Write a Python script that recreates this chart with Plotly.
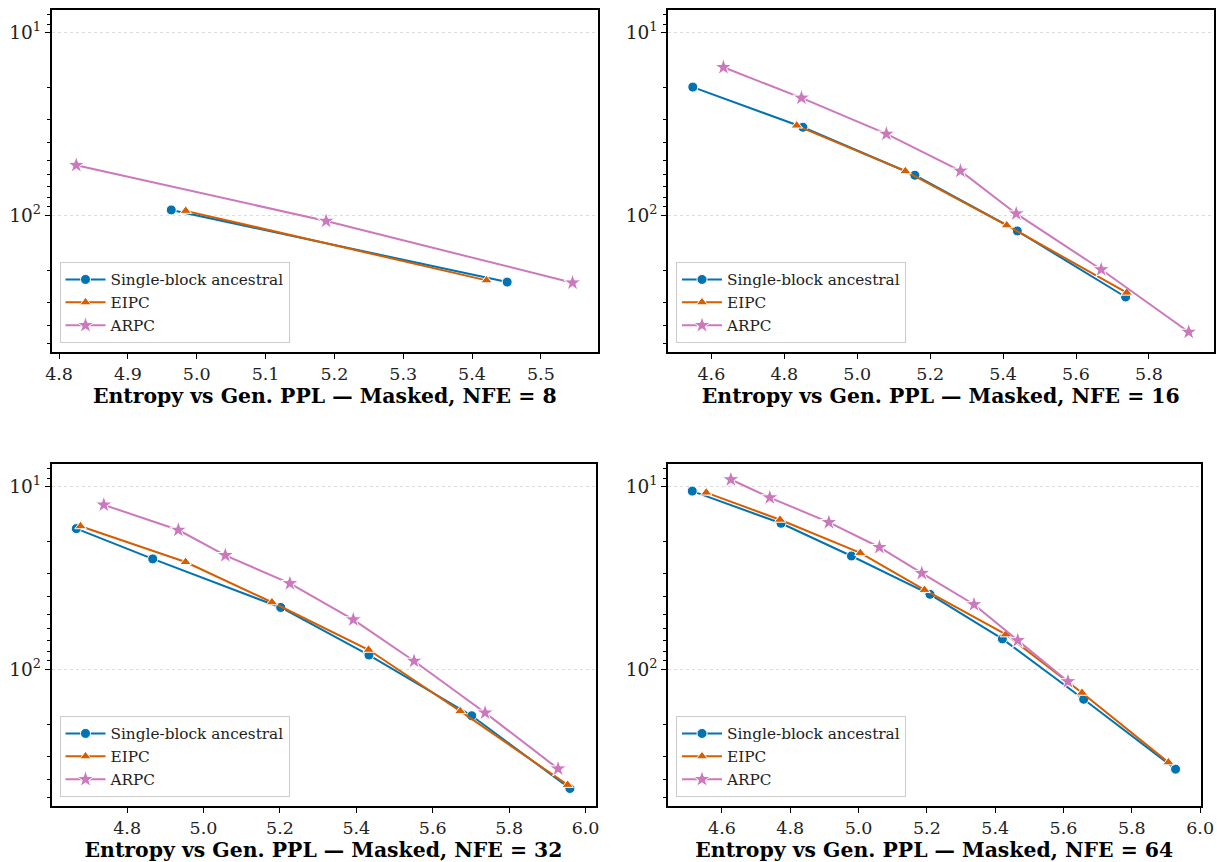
import plotly.graph_objects as go

# ---------------- data ----------------
series_names = ["Single-block ancestral", "EIPC", "ARPC"]
nfe_labels = [8, 16, 32, 64]

# NFE = 8
sb8_x = [4.963, 5.451]
sb8_y = [93.5, 232]
ei8_x = [4.984, 5.421]
ei8_y = [94.6, 227]
ar8_x = [4.825, 5.188, 5.546]
ar8_y = [53.2, 107.5, 234]

# NFE = 16
sb16_x = [4.549, 4.851, 5.158, 5.439, 5.736]
sb16_y = [19.9, 33.0, 60.4, 121.9, 280]
ei16_x = [4.834, 5.132, 5.410, 5.739]
ei16_y = [32.3, 57.4, 113.5, 265]
ar16_x = [4.633, 4.847, 5.080, 5.283, 5.436, 5.669, 5.909]
ar16_y = [15.5, 22.8, 35.9, 57.2, 98, 198, 435]

# NFE = 32
sb32_x = [4.667, 4.867, 5.202, 5.433, 5.702, 5.959]
sb32_y = [17.0, 24.9, 45.9, 83.6, 179.6, 449]
ei32_x = [4.678, 4.953, 5.179, 5.432, 5.672, 5.953]
ei32_y = [16.5, 25.9, 43.0, 78.2, 169.4, 429]
ar32_x = [4.739, 4.934, 5.057, 5.226, 5.392, 5.551, 5.737, 5.928]
ar32_y = [12.6, 17.3, 23.8, 33.9, 53.5, 90.1, 173, 350]

# NFE = 64
sb64_x = [4.513, 4.773, 4.979, 5.209, 5.421, 5.659, 5.928]
sb64_y = [10.6, 15.9, 24.0, 38.9, 68.2, 145.9, 352]
ei64_x = [4.554, 4.770, 5.005, 5.193, 5.431, 5.654, 5.907]
ei64_y = [10.8, 15.2, 23.1, 36.8, 64.4, 134.4, 323]
ar64_x = [4.626, 4.740, 4.913, 5.061, 5.185, 5.338, 5.466, 5.613]
ar64_y = [9.16, 11.5, 15.7, 21.5, 29.8, 44.2, 69.5, 116.6]

y_tick_vals = [10, 100]
y_tick_text = ["10<sup>1</sup>", "10<sup>2</sup>"]
y_minor_vals = [8, 9, 20, 30, 40, 50, 60, 70, 80, 90, 200, 300, 400, 500]

# ---------------- style / layout ----------------
W, H = 1217, 862
COLORS = ["#0173b2", "#d55e00", "#cc78bc"]
SYMBOLS = ["circle", "triangle-up", "star"]
MSIZE = [10, 10, 13]
FONT = "DejaVu Serif"

panels = [
    dict(data=[(sb8_x, sb8_y), (ei8_x, ei8_y), (ar8_x, ar8_y)],
         px=(51.5, 598), py=(10, 352), xr=(4.789, 5.583), dt=0.1),
    dict(data=[(sb16_x, sb16_y), (ei16_x, ei16_y), (ar16_x, ar16_y)],
         px=(668, 1213.5), py=(10, 352), xr=(4.481, 5.977), dt=0.2),
    dict(data=[(sb32_x, sb32_y), (ei32_x, ei32_y), (ar32_x, ar32_y)],
         px=(51.5, 595.5), py=(464, 806), xr=(4.602, 6.026), dt=0.2),
    dict(data=[(sb64_x, sb64_y), (ei64_x, ei64_y), (ar64_x, ar64_y)],
         px=(668, 1200.5), py=(464, 806), xr=(4.442, 6.001), dt=0.2),
]

fig = go.Figure()
layout = dict(
    width=W, height=H, margin=dict(l=0, r=0, t=0, b=0, autoexpand=False),
    paper_bgcolor="white", plot_bgcolor="white",
    font=dict(family=FONT, color="#222222"),
)

for i, p in enumerate(panels):
    k = "" if i == 0 else str(i + 1)
    leg = "legend" + k
    for j, (xs, ys) in enumerate(p["data"]):
        fig.add_trace(go.Scatter(
            x=xs, y=ys, mode="lines+markers", name=series_names[j],
            line=dict(color=COLORS[j], width=2),
            marker=dict(symbol=SYMBOLS[j], size=MSIZE[j], color=COLORS[j],
                        line=dict(color="white", width=1)),
            xaxis="x" + k, yaxis="y" + k, legend=leg,
        ))
    x0, x1 = p["px"]
    y0, y1 = p["py"]
    layout["xaxis" + k] = dict(
        domain=[x0 / W, x1 / W], range=list(p["xr"]), anchor="y" + k,
        automargin=False,
        tick0=4.0, dtick=p["dt"], tickformat=".1f",
        ticks="outside", ticklen=5, tickwidth=1, tickcolor="black",
        ticklabeloverflow="allow",
        showline=True, linecolor="black", linewidth=1.6, mirror=True,
        showgrid=False, zeroline=False,
        tickfont=dict(family=FONT, size=17.5, color="#222222"),
        title=dict(text=f"Entropy vs Gen. PPL — Masked, NFE = {nfe_labels[i]}",
                   font=dict(family=FONT, size=20.4, color="black", weight="bold"),
                   standoff=5),
    )
    layout["yaxis" + k] = dict(
        domain=[1 - y1 / H, 1 - y0 / H], type="log", range=[2.748, 0.877],
        anchor="x" + k, automargin=False,
        tickvals=y_tick_vals, ticktext=y_tick_text,
        ticks="outside", ticklen=5, tickwidth=1, tickcolor="black",
        showline=True, linecolor="black", linewidth=1.6, mirror=True,
        showgrid=True, gridcolor="#dddddd", griddash="dot", gridwidth=1,
        zeroline=False,
        minor=dict(tickvals=y_minor_vals, ticks="outside", ticklen=3,
                   tickwidth=1, tickcolor="black", showgrid=False),
        tickfont=dict(family=FONT, size=18.5, color="#222222"),
    )
    layout[leg] = dict(
        x=(x0 + 8) / W, y=1 - (y1 - 9) / H, xanchor="left", yanchor="bottom",
        bgcolor="rgba(255,255,255,0.8)", bordercolor="#cccccc", borderwidth=1,
        font=dict(family=FONT, size=15.3, color="#222222"),
        itemwidth=40, tracegroupgap=0,
    )

fig.update_layout(**layout)
fig.write_html("out.html")
